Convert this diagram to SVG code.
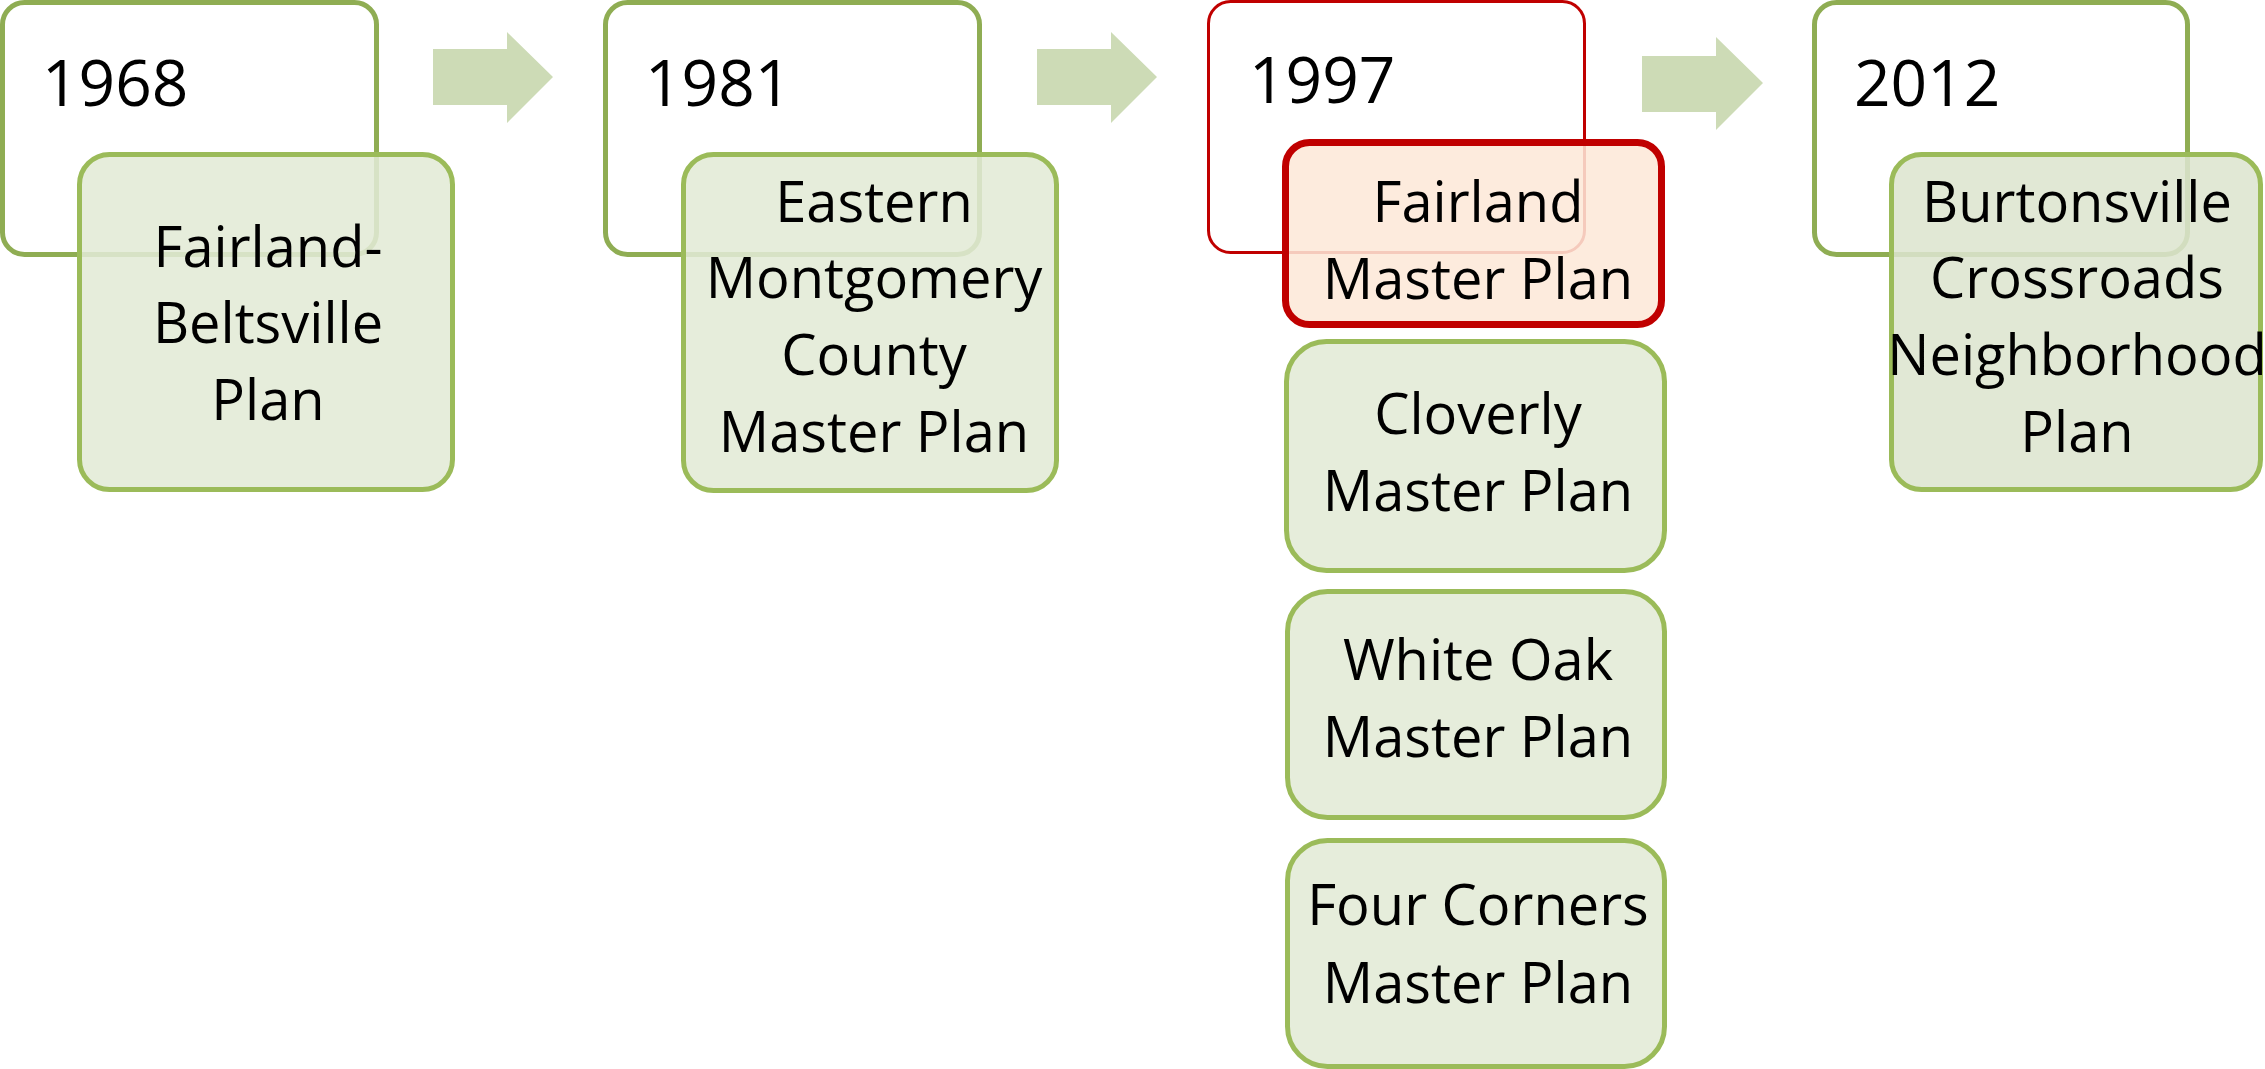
<svg xmlns="http://www.w3.org/2000/svg" width="2265" height="1069" viewBox="0 0 2265 1069">
<style>
text{font-family:"Open Sans","Noto Sans","Liberation Sans",sans-serif;fill:#000}
.yr{font-size:64px}
.ch{font-size:56px;text-anchor:middle}
.ybox{fill:#fff;stroke:#8fad53;stroke-width:5}
.ybox-red{fill:#fff;stroke:#c00000;stroke-width:3}
.cbox{fill:#e2ead6;fill-opacity:0.87;stroke:#9bbb59;stroke-width:5}
.cbox-red{fill:#fde8d8;fill-opacity:0.87;stroke:#c00000;stroke-width:7}
.arrow{fill:#cddbb6}
</style>
<g id="connectors">
<polygon class="arrow" points="433,49 507,49 507,32 553,77 507,123 507,105 433,105"/>
<polygon class="arrow" points="1037,49 1111,49 1111,32 1157,77 1111,123 1111,105 1037,105"/>
<polygon class="arrow" points="1642,56 1716,56 1716,37 1763,83 1716,130 1716,112 1642,112"/>
</g>
<g id="year-1968">
<rect class="ybox" x="2.5" y="2.5" width="374" height="252" rx="22"/>
<text class="yr" x="42" y="106">1968</text>
</g>
<g id="plan-fairland-beltsville">
<rect class="cbox" x="79.5" y="154.5" width="373" height="335" rx="30"/>
<text class="ch" x="268" y="267">Fairland-</text>
<text class="ch" x="268" y="343">Beltsville</text>
<text class="ch" x="268" y="420">Plan</text>
</g>
<g id="year-1981">
<rect class="ybox" x="605.5" y="2.5" width="374" height="252" rx="22"/>
<text class="yr" x="645" y="106">1981</text>
</g>
<g id="plan-eastern-montgomery">
<rect class="cbox" x="683.5" y="154.5" width="373" height="336" rx="30"/>
<text class="ch" x="874" y="222">Eastern</text>
<text class="ch" x="874" y="298">Montgomery</text>
<text class="ch" x="874" y="375">County</text>
<text class="ch" x="874" y="452">Master Plan</text>
</g>
<g id="year-1997">
<rect class="ybox-red" x="1208.5" y="1.5" width="376" height="251" rx="22"/>
<text class="yr" x="1249" y="103">1997</text>
</g>
<g id="plan-fairland">
<rect class="cbox-red" x="1285.5" y="142.5" width="376" height="182" rx="24"/>
<text class="ch" x="1478" y="222">Fairland</text>
<text class="ch" x="1478" y="299">Master Plan</text>
</g>
<g id="plan-cloverly">
<rect class="cbox" x="1286.5" y="341.5" width="378" height="229" rx="40"/>
<text class="ch" x="1478" y="434">Cloverly</text>
<text class="ch" x="1478" y="511">Master Plan</text>
</g>
<g id="plan-white-oak">
<rect class="cbox" x="1287.5" y="591.5" width="377" height="226" rx="40"/>
<text class="ch" x="1478" y="680">White Oak</text>
<text class="ch" x="1478" y="757">Master Plan</text>
</g>
<g id="plan-four-corners">
<rect class="cbox" x="1287.5" y="840.5" width="377" height="226" rx="40"/>
<text class="ch" x="1478" y="925">Four Corners</text>
<text class="ch" x="1478" y="1003">Master Plan</text>
</g>
<g id="year-2012">
<rect class="ybox" x="1814.5" y="2.5" width="373" height="252" rx="22"/>
<text class="yr" x="1854" y="106">2012</text>
</g>
<g id="plan-burtonsville">
<rect class="cbox" x="1891.5" y="154.5" width="369" height="335" rx="30" style="fill:#dce5cf"/>
<text class="ch" x="2077" y="222">Burtonsville</text>
<text class="ch" x="2077" y="298">Crossroads</text>
<text class="ch" x="2077" y="375">Neighborhood</text>
<text class="ch" x="2077" y="452">Plan</text>
</g>
</svg>
